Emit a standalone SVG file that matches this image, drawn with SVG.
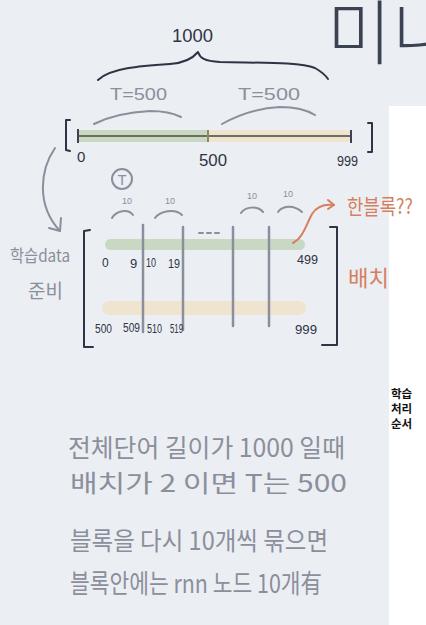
<svg xmlns="http://www.w3.org/2000/svg" width="426" height="625" viewBox="0 0 426 625">
<style>
.hand{font-family:"Noto Sans CJK KR","Noto Sans",sans-serif;fill:#8b8e9b}
.num{font-family:"Liberation Sans","Noto Sans",sans-serif;fill:#2f3445}
.gnum{font-family:"Liberation Sans","Noto Sans",sans-serif;fill:#8b8e9b}
.or{font-family:"Noto Sans CJK KR","Noto Sans",sans-serif;fill:#d4805f}
.gl{fill:none;stroke:#8b8e9b;stroke-width:2;stroke-linecap:round;stroke-linejoin:round}
.dk{fill:none;stroke:#2f3445;stroke-width:2;stroke-linecap:round;stroke-linejoin:round}
.vl{stroke:#8b8e9b;stroke-width:2.5;stroke-linecap:round}
.orl{fill:none;stroke:#d4805f;stroke-width:2;stroke-linecap:round;stroke-linejoin:round}
.side{font-family:"Noto Sans CJK KR",sans-serif;font-size:11.5px;font-weight:bold;fill:#111}
</style>
<rect x="0" y="0" width="426" height="625" fill="#ebeef3"/>
<rect x="389" y="106" width="37" height="519" fill="#ffffff"/>

<g id="title">
<text x="327" y="59" font-size="70" font-weight="300" font-family="'Noto Sans CJK KR',sans-serif" fill="#3b4252">미니</text>
</g>

<g id="total-brace">
<path class="dk" d="M98,80 C110,68 140,66 170,64 C185,63 193,58 198,52 C200,58 204,61 220,62 C260,63 300,62 315,68 C322,72 326,76 328,79"/>
<text class="num" x="172" y="42" font-size="19" textLength="41" lengthAdjust="spacingAndGlyphs">1000</text>
</g>

<g id="t-labels">
<text class="gnum" x="110" y="100" font-size="17" textLength="57" lengthAdjust="spacingAndGlyphs">T=500</text>
<path class="gl" d="M94,124 C110,116 130,112 150,111 C165,111 175,114 181,117"/>
<text class="gnum" x="238" y="100" font-size="17" textLength="62" lengthAdjust="spacingAndGlyphs">T=500</text>
<path class="gl" d="M222,124 C240,114 260,108 280,107 C295,107 307,110 315,115"/>
</g>

<g id="sequence-bar">
<path class="dk" d="M70,120 L66,120 L66,150 L70,151"/>
<path class="dk" d="M368,123 L372,123 L372,152 L368,152"/>
<rect x="78" y="130" width="130" height="12" fill="#c8d8c2"/>
<rect x="206" y="130" width="146" height="12" rx="6" fill="#efe4d0"/>
<line x1="78" y1="136" x2="352" y2="136" stroke="#6f6d5e" stroke-width="2"/>
<line x1="78" y1="129" x2="78" y2="143" stroke="#3b4252" stroke-width="2"/>
<line x1="208" y1="130" x2="208" y2="142" stroke="#8a8a5a" stroke-width="2"/>
<line x1="351" y1="130" x2="351" y2="143" stroke="#3b4252" stroke-width="2"/>
<text class="num" x="77" y="162" font-size="15">0</text>
<text class="num" x="199" y="166" font-size="16" textLength="28" lengthAdjust="spacingAndGlyphs">500</text>
<text class="num" x="337" y="166" font-size="15" textLength="21" lengthAdjust="spacingAndGlyphs">999</text>
</g>

<g id="prep-label">
<text class="hand" x="10" y="262" font-size="17" textLength="60" lengthAdjust="spacingAndGlyphs">학습data</text>
<text class="hand" x="28" y="298" font-size="19">준비</text>
</g>

<g id="t-circle">
<circle cx="122" cy="179" r="10" fill="none" stroke="#8b8e9b" stroke-width="2"/>
<text class="gnum" x="122" y="185" font-size="15" text-anchor="middle">T</text>
</g>

<g id="block-labels">
<text class="gnum" x="127" y="204" font-size="9" text-anchor="middle">10</text>
<path class="gl" d="M112,218 C116,211 128,208 133,215"/>
<text class="gnum" x="170" y="204" font-size="9" text-anchor="middle">10</text>
<path class="gl" d="M155,218 C160,211 175,208 182,215"/>
<text class="gnum" x="252" y="199" font-size="9" text-anchor="middle">10</text>
<path class="gl" d="M241,213 C245,207 257,205 263,212"/>
<text class="gnum" x="288" y="197" font-size="9" text-anchor="middle">10</text>
<path class="gl" d="M278,212 C282,206 293,204 302,212"/>
<path class="gl" d="M199,233 L203,233 M207,233 L211,233 M215,233 L219,233"/>
</g>

<g id="batch-matrix">
<path class="dk" d="M90,230 L84,231 L84,347 L93,347"/>
<path class="dk" d="M330,227 L337,227 L337,345 L322,345"/>
<rect x="105" y="239" width="200" height="11" rx="5.5" fill="#c8d8c2"/>
<rect x="102" y="301" width="204" height="14" rx="7" fill="#efe4d0"/>
<line class="vl" x1="143" y1="225" x2="143" y2="332"/>
<line class="vl" x1="183" y1="227" x2="183" y2="330"/>
<line class="vl" x1="233" y1="227" x2="233" y2="326"/>
<line class="vl" x1="269" y1="227" x2="269" y2="326"/>
<text class="num" x="102" y="267" font-size="12">0</text>
<text class="num" x="130" y="268" font-size="13">9</text>
<text class="num" x="146" y="267" font-size="12" textLength="10" lengthAdjust="spacingAndGlyphs">10</text>
<text class="num" x="168" y="268" font-size="13" textLength="12" lengthAdjust="spacingAndGlyphs">19</text>
<text class="num" x="297" y="264" font-size="12" textLength="21" lengthAdjust="spacingAndGlyphs">499</text>
<text class="num" x="95" y="333" font-size="12" textLength="17" lengthAdjust="spacingAndGlyphs">500</text>
<text class="num" x="123" y="332" font-size="12" textLength="17" lengthAdjust="spacingAndGlyphs">509</text>
<text class="num" x="147" y="333" font-size="12" textLength="15" lengthAdjust="spacingAndGlyphs">510</text>
<text class="num" x="170" y="333" font-size="12" textLength="13" lengthAdjust="spacingAndGlyphs">519</text>
<text class="num" x="295" y="334" font-size="12" textLength="22" lengthAdjust="spacingAndGlyphs">999</text>
</g>

<g id="block-note">
<text class="or" x="347" y="214" font-size="21" textLength="66" lengthAdjust="spacingAndGlyphs">한블록??</text>
</g>

<g id="batch-note">
<text class="or" x="348" y="286" font-size="22" textLength="41" lengthAdjust="spacingAndGlyphs">배치</text>
</g>

<g id="connectors">
<path class="gl" d="M55,148 C40,170 36,205 60,231"/>
<path class="gl" d="M49,228 L60,231 L61,218"/>
<path class="orl" d="M293,243 C303,238 306,225 312,214 C317,206 325,204 334,205"/>
<path class="orl" d="M328,200 L334,205 L328,209"/>
</g>

<g id="explanation">
<text class="hand" x="68" y="457" font-size="25" textLength="277" lengthAdjust="spacingAndGlyphs">전체단어 길이가 1000 일때</text>
<text class="hand" x="70" y="492" font-size="24" textLength="277" lengthAdjust="spacingAndGlyphs">배치가 2 이면  T는 500</text>
<text class="hand" x="70" y="550" font-size="25" textLength="258" lengthAdjust="spacingAndGlyphs">블록을 다시 10개씩 묶으면</text>
<text class="hand" x="70" y="593" font-size="26" textLength="252" lengthAdjust="spacingAndGlyphs">블록안에는 rnn 노드 10개有</text>
</g>

<g id="side-note">
<text class="side" x="391" y="398">학습</text>
<text class="side" x="391" y="413">처리</text>
<text class="side" x="391" y="428">순서</text>
</g>
</svg>
